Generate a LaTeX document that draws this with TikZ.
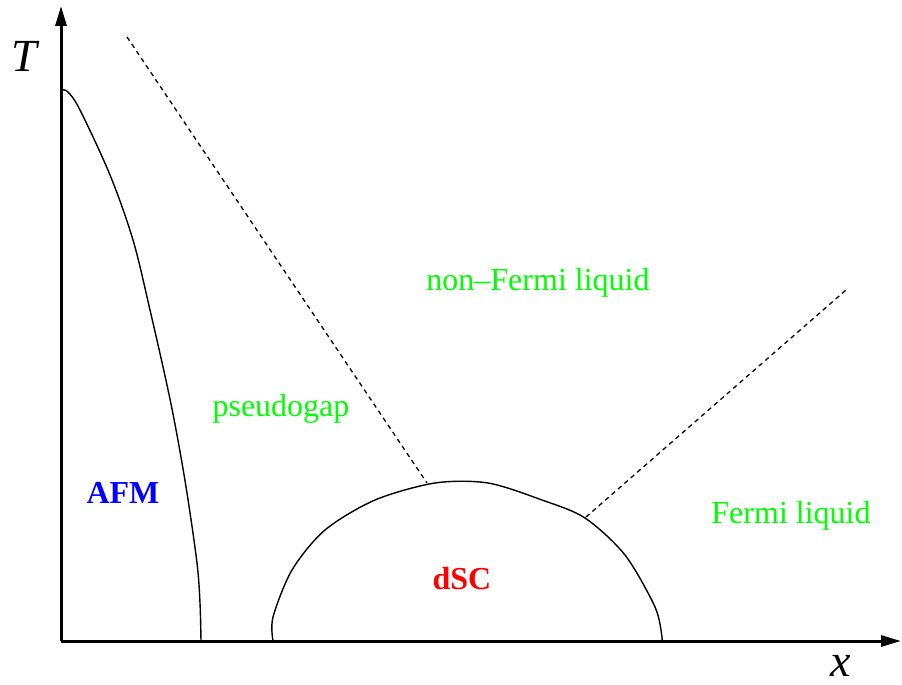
\documentclass[tikz,border=0pt]{standalone}
\usepackage{fontspec}
\setmainfont{Liberation Serif}
\usetikzlibrary{arrows.meta}
\definecolor{phgreen}{RGB}{0,255,0}
\definecolor{phblue}{RGB}{0,0,255}
\definecolor{phred}{RGB}{255,0,0}
\tikzset{
  axis/.style={line width=3pt,-{Triangle[length=20pt,width=11pt]}},
  curve/.style={line width=1.4pt,line join=round},
  crossover/.style={line width=1.3pt,dash pattern=on 4.5pt off 4pt},
  region/.style={anchor=base,font=\fontsize{32}{38}\selectfont,text=phgreen,inner sep=0pt},
  phase/.style={anchor=base,font=\fontsize{32}{38}\selectfont\bfseries,inner sep=0pt},
  axlabel/.style={anchor=base,font=\fontsize{46}{52}\selectfont\itshape,inner sep=0pt}
}
\begin{document}
\begin{tikzpicture}[x=1pt,y=-1pt]
\useasboundingbox (0,0) rectangle (902,685);
% axes
\coordinate (O) at (61,641);
\coordinate (Ytip) at (61,6);
\coordinate (Xtip) at (901,641);
\draw[axis] (O) -- (Ytip);
\draw[axis] (O) -- (Xtip);
\node[axlabel] (T) at (24,71) {T};
\node[axlabel] (xl) at (841,676) {x};
% AFM boundary
\draw[curve] plot[smooth,tension=0.55] coordinates {(62,90) (68,92) (80,110) (110,175) (133,240) (150,310) (167,385) (177,435) (187,493) (197,563) (200,603) (201,641)};
% dSC dome
\draw[curve] plot[smooth,tension=0.5] coordinates {(273,641) (273,617) (292,570) (325,530) (375,500) (435,483) (488,483) (542,500) (585,518) (625,555) (655,607) (662,637) (661,641)};
% crossover lines
\coordinate (d1a) at (127,37);
\coordinate (d1b) at (427,483);
\coordinate (d2a) at (586,517);
\coordinate (d2b) at (846,290);
\draw[crossover] (d1a) -- (d1b);
\draw[crossover] (d2a) -- (d2b);
% labels
\node[region] (nfl) at (538,290) {non–Fermi liquid};
\node[region] (pg) at (281,416) {pseudogap};
\node[region] (fl) at (791,523) {Fermi liquid};
\node[phase,text=phblue] (afm) at (123,503) {AFM};
\node[phase,text=phred] (dsc) at (462,589) {dSC};
\end{tikzpicture}
\end{document}
